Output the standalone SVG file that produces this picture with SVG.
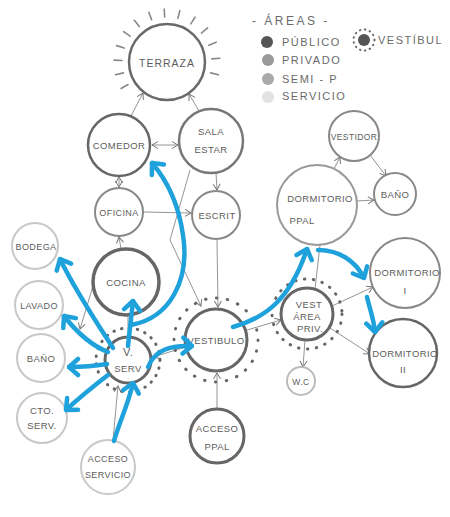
<svg xmlns="http://www.w3.org/2000/svg" width="450" height="517" viewBox="0 0 450 517">
<style>
text{font-family:"Liberation Sans",Arial,sans-serif;fill:#5c5c5c;font-size:9.5px;text-anchor:middle;letter-spacing:0.4px}
.n{fill:#fff}
.d{stroke:#666}
.m{stroke:#888}
.l{stroke:#c8c8c8}
.c line,.c path,.c polyline{fill:none;stroke:#888;stroke-width:0.9}
.b path{fill:none;stroke:#1fa2dc;stroke-width:4.5;stroke-linecap:round}
.dots{fill:none;stroke:#666;stroke-width:3;stroke-linecap:round}
.lg{text-anchor:start;font-size:11px;letter-spacing:1.5px;fill:#6a6a6a}
</style>
<defs>
<marker id="a" viewBox="-8 -5 10 10" refX="0" refY="0" markerWidth="10" markerHeight="10" markerUnits="userSpaceOnUse" orient="auto-start-reverse"><path d="M-6,-3.5 L0,0 L-6,3.5" fill="none" stroke="#777" stroke-width="1"/></marker>
<marker id="bb" viewBox="-12 -11 14 22" refX="0" refY="0" markerWidth="14" markerHeight="22" markerUnits="userSpaceOnUse" orient="auto"><path d="M-9,-8 L0,0 L-9,8" fill="none" stroke="#1fa2dc" stroke-width="4.5" stroke-linecap="round" stroke-linejoin="round"/></marker>
<line id="ray" x1="0" y1="-45" x2="0" y2="-53" stroke="#888" stroke-width="1.6" stroke-linecap="round"/>
</defs>
<rect width="450" height="517" fill="#fff"/>

<g id="legend">
<text x="252" y="25" class="lg" style="font-size:12px;letter-spacing:2.5px">- ÁREAS -</text>
<circle cx="267" cy="42" r="6" fill="#555"/>
<text x="282" y="46" class="lg">PÚBLICO</text>
<circle cx="364" cy="40" r="6" fill="#555"/>
<circle cx="364" cy="40" r="10.5" class="dots" style="stroke-width:2;stroke-dasharray:0.5 4.5"/>
<text x="378" y="44" class="lg">VESTÍBUL</text>
<circle cx="268" cy="60" r="6" fill="#999"/>
<text x="282" y="64" class="lg">PRIVADO</text>
<circle cx="268" cy="79" r="6" fill="#aaa"/>
<text x="282" y="83" class="lg">SEMI - P</text>
<circle cx="268" cy="97" r="6" fill="#e2e2e2"/>
<text x="282" y="100" class="lg">SERVICIO</text>
</g>

<g id="connectors" class="c">
<line x1="131" y1="116" x2="143" y2="93" marker-end="url(#a)"/>
<line x1="199" y1="111" x2="189" y2="94" marker-end="url(#a)"/>
<line x1="152" y1="145" x2="178" y2="145" marker-start="url(#a)" marker-end="url(#a)"/>
<line x1="119" y1="177" x2="119" y2="187" marker-start="url(#a)" marker-end="url(#a)"/>
<line x1="144" y1="212" x2="191" y2="213" marker-end="url(#a)"/>
<line x1="216" y1="173" x2="217" y2="190" marker-end="url(#a)"/>
<line x1="121" y1="249" x2="119" y2="237" marker-end="url(#a)"/>
<polyline points="190,170 170,240 201,306" marker-end="url(#a)"/>
<line x1="217" y1="240" x2="218" y2="307" marker-end="url(#a)"/>
<line x1="128" y1="315" x2="128" y2="337"/>
<line x1="93" y1="286" x2="80" y2="329" marker-end="url(#a)"/>
<line x1="100" y1="383" x2="70" y2="404"/>
<line x1="113" y1="440" x2="118" y2="386" marker-end="url(#a)"/>
<line x1="186" y1="347" x2="153" y2="357" marker-end="url(#a)"/>
<line x1="217" y1="409" x2="217" y2="373" marker-end="url(#a)"/>
<line x1="247" y1="330" x2="281" y2="320" marker-end="url(#a)"/>
<line x1="315" y1="289" x2="320" y2="245"/>
<line x1="332" y1="306" x2="373" y2="287" marker-end="url(#a)"/>
<line x1="330" y1="328" x2="370" y2="354" marker-end="url(#a)"/>
<line x1="305" y1="340" x2="303" y2="367" marker-end="url(#a)"/>
<line x1="334" y1="169" x2="340" y2="157" marker-end="url(#a)"/>
<line x1="370" y1="155" x2="386" y2="176" marker-end="url(#a)"/>
<line x1="357" y1="201" x2="374" y2="200" marker-end="url(#a)"/>
</g>

<g id="terraza">
<circle cx="167" cy="62" r="38" class="n" stroke="#6a6a6a" stroke-width="2.5"/>
<g transform="translate(167 62)">
<use href="#ray" transform="rotate(-120)"/><use href="#ray" transform="rotate(-104)"/><use href="#ray" transform="rotate(-88)"/><use href="#ray" transform="rotate(-72)"/><use href="#ray" transform="rotate(-55)"/><use href="#ray" transform="rotate(-38)"/><use href="#ray" transform="rotate(-20)"/><use href="#ray" transform="rotate(-3)"/><use href="#ray" transform="rotate(14)"/><use href="#ray" transform="rotate(32)"/><use href="#ray" transform="rotate(50)"/><use href="#ray" transform="rotate(68)"/><use href="#ray" transform="rotate(86)"/><use href="#ray" transform="rotate(104)"/>
</g>
<text x="167" y="67" style="letter-spacing:1px;font-size:10.5px">TERRAZA</text>
</g>
<g id="comedor"><circle cx="119" cy="145" r="31" class="n d" stroke-width="2.5"/><text x="119" y="149">COMEDOR</text></g>
<g id="sala-estar"><circle cx="211" cy="141" r="32" class="n" stroke="#777" stroke-width="2.5"/><text x="211" y="135">SALA</text><text x="211" y="153">ESTAR</text></g>
<g id="oficina"><circle cx="119" cy="212" r="24" class="n m" stroke-width="2"/><text x="119" y="216" style="font-size:9px">OFICINA</text></g>
<g id="escrit"><circle cx="216" cy="215" r="24" class="n m" stroke-width="2"/><text x="217" y="219">ESCRIT</text></g>
<g id="cocina"><circle cx="126" cy="282" r="33" class="n d" stroke-width="3.5"/><text x="126" y="286">COCINA</text></g>
<g id="bodega"><circle cx="35" cy="246" r="23" class="n l" stroke-width="2"/><text x="36" y="250" style="font-size:9px">BODEGA</text></g>
<g id="lavado"><circle cx="39" cy="305" r="24" class="n l" stroke-width="2"/><text x="39" y="309" style="font-size:9px">LAVADO</text></g>
<g id="bano-serv"><circle cx="41" cy="358" r="24" class="n l" stroke-width="2"/><text x="41" y="362">BAÑO</text></g>
<g id="cto-serv"><circle cx="42" cy="418" r="25" class="n l" stroke-width="2"/><text x="42" y="414">CTO.</text><text x="42" y="429">SERV.</text></g>
<g id="v-serv"><circle cx="128" cy="360" r="32" class="dots" style="stroke-dasharray:0.5 7.5"/><circle cx="128" cy="360" r="23" class="n d" stroke-width="3"/><text x="128" y="356" style="font-size:11px">V.</text><text x="128" y="372">SERV</text></g>
<g id="acceso-servicio"><circle cx="108" cy="467" r="27" class="n l" stroke-width="2"/><text x="108" y="462" style="font-size:9px">ACCESO</text><text x="108" y="478" style="font-size:9px">SERVICIO</text></g>
<g id="vestibulo"><circle cx="216" cy="340" r="42" class="dots" style="stroke-dasharray:0.5 10.5"/><circle cx="216" cy="340" r="31" class="n d" stroke-width="3"/><text x="216" y="344">VESTIBULO</text></g>
<g id="acceso-ppal"><circle cx="217" cy="436" r="27" class="n d" stroke-width="3"/><text x="217" y="432">ACCESO</text><text x="217" y="450">PPAL</text></g>
<g id="vestidor"><circle cx="354" cy="136" r="25" class="n m" stroke-width="2"/><text x="354" y="140" style="font-size:8.5px">VESTIDOR</text></g>
<g id="bano-ppal"><circle cx="395" cy="194" r="21" class="n m" stroke-width="2"/><text x="395" y="198">BAÑO</text></g>
<g id="dormitorio-ppal"><circle cx="317" cy="205" r="40" class="n" stroke="#999" stroke-width="2"/><text x="320" y="202">DORMITORIO</text><text x="302" y="224">PPAL</text></g>
<g id="dormitorio-1"><circle cx="405" cy="273" r="35" class="n m" stroke-width="2"/><text x="407" y="276">DORMITORIO</text><text x="405" y="294">I</text></g>
<g id="dormitorio-2"><circle cx="403" cy="353" r="34" class="n d" stroke-width="2.5"/><text x="405" y="357">DORMITORIO</text><text x="403" y="373">II</text></g>
<g id="vest-area-priv"><circle cx="307" cy="314" r="35" class="dots" style="stroke-dasharray:0.5 8.5"/><circle cx="307" cy="314" r="26" class="n d" stroke-width="3"/><text x="309" y="308">VEST</text><text x="307" y="320">ÁREA</text><text x="310" y="332">PRIV.</text></g>
<g id="wc"><circle cx="301" cy="381" r="14" class="n" stroke="#bbb" stroke-width="2"/><text x="301" y="385" style="font-size:8.5px">W.C</text></g>

<g id="flows" class="b">
<path d="M131,325 C170,318 190,280 183,235 C178,200 165,178 152,163" marker-end="url(#bb)"/>
<path d="M128,346 L133,301" marker-end="url(#bb)"/>
<path d="M113,348 C95,320 75,290 60,259" marker-end="url(#bb)"/>
<path d="M108,352 C90,345 75,330 64,316" marker-end="url(#bb)"/>
<path d="M107,364 C95,366 82,367 69,367" marker-end="url(#bb)"/>
<path d="M108,375 C95,385 80,397 66,410" marker-end="url(#bb)"/>
<path d="M114,441 C120,420 128,405 133,383" marker-end="url(#bb)"/>
<path d="M148,367 C155,350 170,345 192,346" marker-end="url(#bb)"/>
<path d="M233,327 C265,318 290,300 307,249" marker-end="url(#bb)"/>
<path d="M318,250 C338,250 355,260 364,278" marker-end="url(#bb)"/>
<path d="M367,297 C370,310 374,320 375,332" marker-end="url(#bb)"/>
</g>
</svg>
